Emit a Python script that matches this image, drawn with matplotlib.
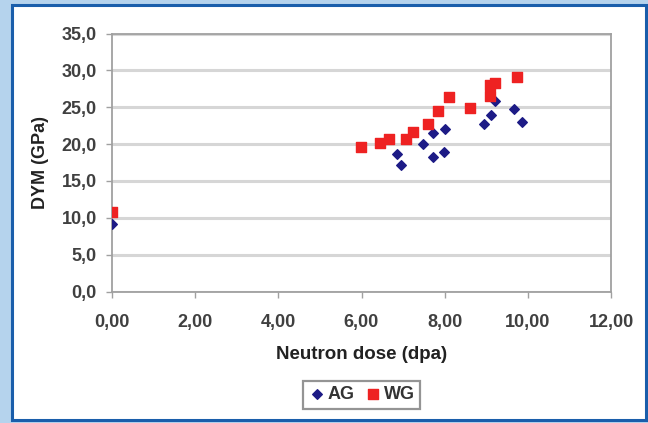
import matplotlib.pyplot as plt
from matplotlib.patches import Rectangle

# data
ag_dose = [0.0, 6.85, 6.94, 7.48, 7.73, 7.72, 7.98, 8.0, 8.94, 9.11, 9.2, 9.67, 9.85]
ag_dym = [9.2, 18.6, 17.2, 20.0, 21.5, 18.2, 18.9, 22.0, 22.7, 24.0, 25.8, 24.7, 23.0]

wg_dose = [0.0, 5.98, 6.45, 6.67, 7.07, 7.25, 7.61, 7.85, 8.10, 8.60, 9.10, 9.10, 9.20, 9.74]
wg_dym = [10.8, 19.6, 20.1, 20.7, 20.7, 21.7, 22.7, 24.5, 26.4, 24.9, 26.5, 28.0, 28.3, 29.1]

x_ticks = [0, 2, 4, 6, 8, 10, 12]
y_ticks = [0, 5, 10, 15, 20, 25, 30, 35]

plt.rcParams['font.family'] = ['Liberation Sans', 'DejaVu Sans']

fig = plt.figure(figsize=(6.48, 4.23), dpi=100)
fig.patch.set_facecolor('#b5d3ed')

# white panel with dark blue frame
fig.patches.append(Rectangle((12 / 648, 3 / 423), 634 / 648, 415 / 423,
                             transform=fig.transFigure, facecolor='white',
                             edgecolor='#1a5eab', linewidth=2.2, zorder=-5))

ax = fig.add_axes([112 / 648, (423 - 291.5) / 423, (611 - 112) / 648, (291.5 - 33.5) / 423])
ax.set_facecolor('white')

ax.scatter(ag_dose, ag_dym, marker='D', s=24, color='#1d1b86', label='AG', zorder=3)
ax.scatter(wg_dose, wg_dym, marker='s', s=46, color='#ee2222', label='WG', zorder=3)

ax.set_xlim(0, 12)
ax.set_ylim(0, 35)
ax.set_xticks(x_ticks)
ax.set_yticks(y_ticks)
ax.set_xticklabels([('%.2f' % v).replace('.', ',') for v in x_ticks], fontweight='bold')
ax.set_yticklabels([('%.1f' % v).replace('.', ',') for v in y_ticks], fontweight='bold')

ax.grid(axis='y', color='#d6d6d6', linewidth=2.2)
ax.set_axisbelow(True)
for s in ax.spines.values():
    s.set_color('#a0a0a0')
    s.set_linewidth(1.3)

ax.tick_params(axis='both', colors='#a0a0a0', length=4, width=1, labelsize=13,
               labelcolor='#404040')
ax.tick_params(axis='x', pad=12)
ax.tick_params(axis='y', pad=7)

ax.set_xlabel('Neutron dose (dpa)', fontsize=13.5, fontweight='bold', color='#222222', labelpad=11)
ax.set_ylabel('DYM (GPa)', fontsize=13, fontweight='bold', color='#222222', labelpad=9)

leg = ax.legend(loc='center', bbox_to_anchor=(0.5, -0.4), ncol=2,
                prop={'size': 13, 'weight': 'bold'},
                frameon=True, fancybox=False, handletextpad=0.1, columnspacing=0.5,
                borderpad=0.3, handlelength=1.0)
leg.get_frame().set_edgecolor('#7a7a7a')
leg.get_frame().set_linewidth(1.6)
for t in leg.get_texts():
    t.set_color('#333333')

fig.savefig('out.png', dpi=100, facecolor=fig.get_facecolor())
